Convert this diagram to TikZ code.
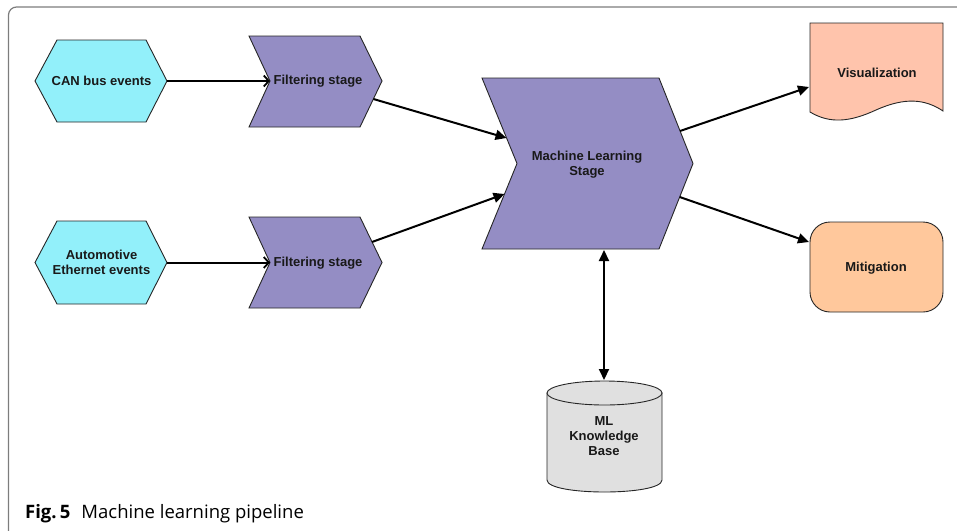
\documentclass[tikz,border=0pt]{standalone}
\usepackage{fontspec}
\setmainfont{Liberation Sans}
\newfontfamily\capfont{Open Sans}
\usetikzlibrary{arrows.meta}
\definecolor{hexcyan}{RGB}{146,240,250}
\definecolor{chevpurple}{RGB}{148,141,196}
\definecolor{vispink}{RGB}{255,196,172}
\definecolor{mitorange}{RGB}{255,200,156}
\definecolor{dbgray}{RGB}{224,224,224}
\definecolor{framegray}{RGB}{125,125,125}
\begin{document}
\begin{tikzpicture}[x=1pt,y=-1pt,
  shapeline/.style={draw=black!85, line width=0.9pt},
  lbl/.style={font=\bfseries\fontsize{13}{15}\selectfont, align=center, text=black!90, inner sep=0pt},
  openconn/.style={line width=2pt, -{Straight Barb[length=5pt,width=11pt,line width=1.8pt]}},
  conn/.style={line width=2pt, -{Triangle[length=11pt,width=10pt]}},
  dconn/.style={line width=2pt, {Triangle[length=11pt,width=10pt]}-{Triangle[length=11pt,width=10pt]}}
]
\useasboundingbox (0,0) rectangle (957,530);
% frame
\draw[framegray, line width=1.2pt, rounded corners=8pt] (8.5,540) -- (8.5,7) -- (970,7);

% shapes
\path[shapeline, fill=hexcyan] (35,81) -- (57,40) -- (146,40) -- (167,81) -- (146,122) -- (57,122) -- cycle;
\path[shapeline, fill=hexcyan] (35,262.5) -- (57,221) -- (146,221) -- (167,262.5) -- (146,304) -- (57,304) -- cycle;
\path[shapeline, fill=chevpurple] (249,36) -- (360,36) -- (382,81) -- (360,127) -- (249,127) -- (270,81) -- cycle;
\path[shapeline, fill=chevpurple] (249,217) -- (360,217) -- (382,262.5) -- (360,308) -- (249,308) -- (270,262.5) -- cycle;
\path[shapeline, fill=chevpurple] (482,78) -- (659,78) -- (693,163.5) -- (659,249) -- (482,249) -- (517,163.5) -- cycle;
\path[shapeline, fill=vispink] (810,23) -- (943,23) -- (943,111)
   .. controls (925,99) and (905,97) .. (876,110)
   .. controls (850,122) and (830,124) .. (810,112) -- cycle;
\path[shapeline, fill=mitorange, rounded corners=20pt] (810,222) rectangle (943,312);
\path[shapeline, fill=dbgray] (547,393) -- (547,480) .. controls (547,496) and (662,496) .. (662,480) -- (662,393) -- cycle;
\path[shapeline, fill=dbgray] (604.5,393) ellipse [x radius=57.5, y radius=12];

% labels
\node[lbl] (can) at (101.5,81) {CAN bus events};
\node[lbl] (eth) at (101.5,262.5) {Automotive\\Ethernet events};
\node[lbl] (filt1) at (318,81) {Filtering stage};
\node[lbl] (filt2) at (318,263) {Filtering stage};
\node[lbl] (ml) at (587,165) {Machine Learning\\Stage};
\node[lbl] (vis) at (877,73) {Visualization};
\node[lbl] (mit) at (876,268) {Mitigation};
\node[lbl] (kb) at (604,436) {ML\\Knowledge\\Base};
\node[anchor=base west, inner sep=0pt, font=\capfont\fontsize{18.5}{21}\selectfont] (cap) at (25,518) {\textbf{Fig.\,5}\hspace{0.6em}Machine learning pipeline};

% connector end points
\coordinate (h1e) at (167,81);
\coordinate (f1w) at (270,81);
\coordinate (h2e) at (167,262.5);
\coordinate (f2w) at (270,262.5);
\coordinate (f1o) at (373.4,99);
\coordinate (mlin1) at (506.5,138);
\coordinate (f2o) at (372,242);
\coordinate (mlin2) at (504.5,194);
\coordinate (mlo1) at (680,131);
\coordinate (visin) at (809,87);
\coordinate (mlo2) at (679.7,197);
\coordinate (mitin) at (809,242);
\coordinate (mlb) at (604,250);
\coordinate (kbt) at (604,380);

\draw[openconn] (h1e) -- (f1w);
\draw[openconn] (h2e) -- (f2w);
\draw[conn] (f1o) -- (mlin1);
\draw[conn] (f2o) -- (mlin2);
\draw[conn] (mlo1) -- (visin);
\draw[conn] (mlo2) -- (mitin);
\draw[dconn] (mlb) -- (kbt);
\end{tikzpicture}
\end{document}
